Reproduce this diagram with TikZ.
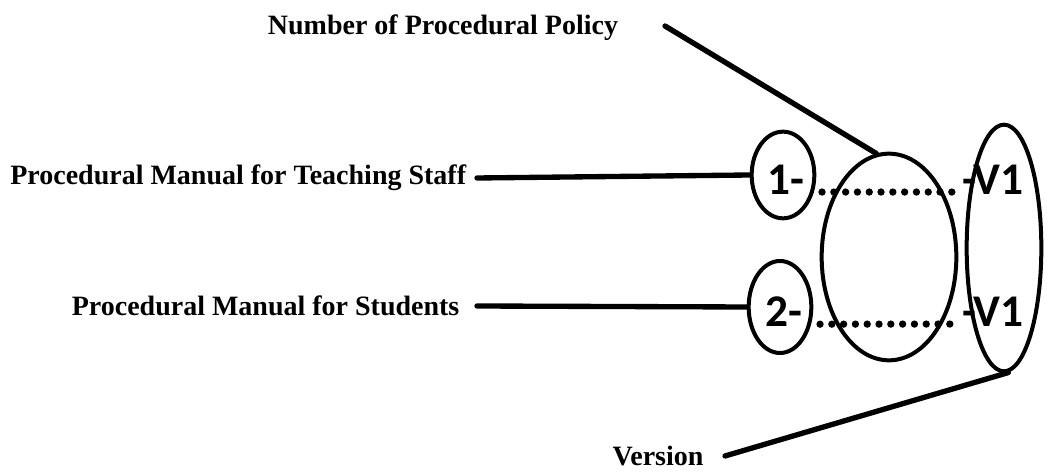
\documentclass[tikz,border=0pt]{standalone}
\usepackage{fontspec}
\setmainfont{Liberation Serif}
\newfontfamily\tagfont{Carlito}
\usetikzlibrary{shapes.geometric}

\begin{document}
\begin{tikzpicture}[x=0.75pt,y=-0.75pt,
		lbl/.style={font=\fontsize{21}{25}\selectfont\bfseries, inner ysep=1pt, inner xsep=8pt},
		ring/.style={draw, ellipse, line width=3pt, inner sep=0pt},
		tag/.style={font=\tagfont\fontsize{34}{38}\selectfont\bfseries, inner sep=0pt},
		wire/.style={line width=4pt, line cap=round},
		dots/.style={line width=5.5pt, line cap=round, dash pattern=on 0pt off 8.85pt}]
		\useasboundingbox (0,0) rectangle (1047,473);
		% labels
		\node[lbl] (num) at (443,28) {Number of Procedural Policy};
		\node[lbl, anchor=east] (teach) at (477,178) {Procedural Manual for Teaching Staff};
		\node[lbl, anchor=east, inner xsep=13pt] (stud) at (477,306) {Procedural Manual for Students};
		\node[lbl, anchor=east, inner xsep=16pt] (ver) at (725,456) {Version};
		% rings
		\node[ring, minimum width=47pt, minimum height=65pt] (e1) at (783,175) {};
		\node[ring, minimum width=47pt, minimum height=69pt] (e2) at (780,307) {};
		\node[ring, minimum width=101pt, minimum height=155pt] (emid) at (889,257) {};
		\node[ring, minimum width=56pt, minimum height=185pt] (eright) at (1004,248) {};
		% numbers and versions
		\node[tag] (n1) at (786,180) {1-};
		\node[tag] (v1) at (993,180) {-V1};
		\node[tag] (n2) at (784,312) {2-};
		\node[tag] (v2) at (993,312) {-V1};
		\draw[dots, shorten <=13pt, shorten >=5pt] ([yshift=2pt]n1.base east) -- ([yshift=2pt]v1.base west);
		\draw[dots, shorten <=13pt, shorten >=5pt] ([yshift=2pt]n2.base east) -- ([yshift=2pt]v2.base west);
		% connectors
		\coordinate (numend) at (665,26);
		\draw[wire] (numend) -- (emid.97);
		\draw[wire] (teach.east) -- (e1.west);
		\draw[wire] (stud.east) -- (e2.west);
		\draw[wire] (ver.east) -- (eright.-88);
	\end{tikzpicture}
\end{document}
